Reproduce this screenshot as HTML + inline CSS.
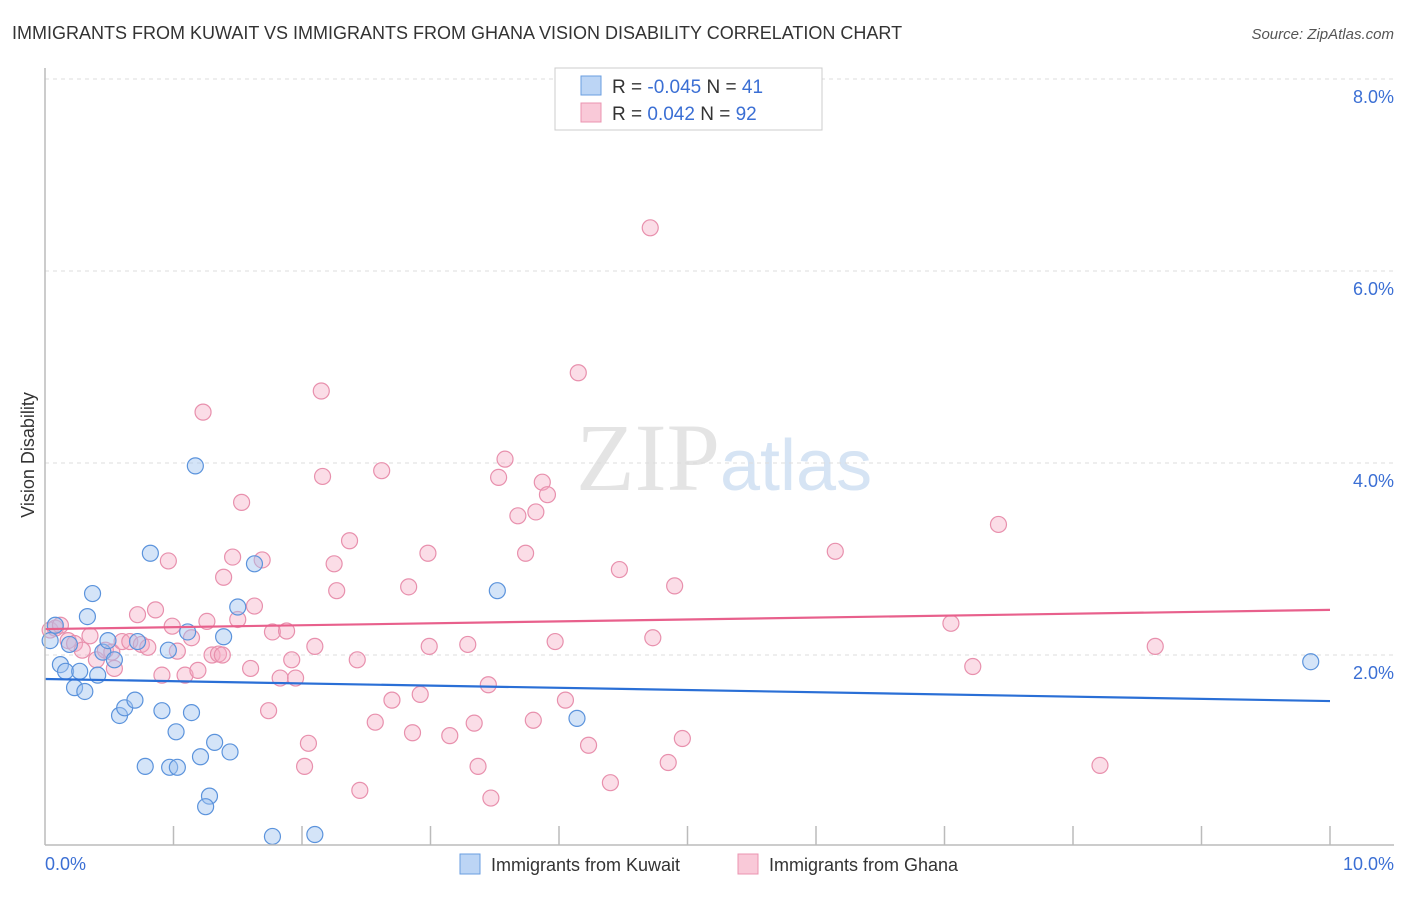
<!DOCTYPE html>
<html><head><meta charset="utf-8"><style>
body{margin:0;background:#fff;font-family:"Liberation Sans",sans-serif}
</style></head><body>
<svg id="c" width="1406" height="892" xmlns="http://www.w3.org/2000/svg">
<text x="12" y="39" font-size="18" fill="#333">IMMIGRANTS FROM KUWAIT VS IMMIGRANTS FROM GHANA VISION DISABILITY CORRELATION CHART</text>
<text x="1394" y="39" font-size="15" fill="#555" font-style="italic" text-anchor="end">Source: ZipAtlas.com</text>
<text x="720" y="490" font-size="96" fill="#e4e4e4" font-family="Liberation Serif,serif" text-anchor="end">ZIP</text>
<text x="720" y="490" font-size="72" fill="#d6e4f4">atlas</text>
<text transform="translate(34,455) rotate(-90)" font-size="18" fill="#333" text-anchor="middle">Vision Disability</text>
<g id="grid"></g><g id="pts"></g><g id="lines"></g>
<line x1="45" y1="68" x2="45" y2="845" stroke="#bbb" stroke-width="1.5"/>
<line x1="45" y1="845" x2="1394" y2="845" stroke="#bbb" stroke-width="1.5"/>
<text x="45" y="870" font-size="18" fill="#3b6fd4">0.0%</text>
<text x="1394" y="870" font-size="18" fill="#3b6fd4" text-anchor="end">10.0%</text>
<g>
<rect x="555" y="68" width="267" height="62" fill="#fff" stroke="#ccc"/>
<rect x="581" y="76" width="20" height="19" fill="#bcd5f5" stroke="#6a9ee0"/>
<rect x="581" y="103" width="20" height="19" fill="#f9c9d8" stroke="#eb94b0"/>
<text x="612" y="93" font-size="19" fill="#333">R = <tspan fill="#3b6fd4">-0.045</tspan>   N = <tspan fill="#3b6fd4">41</tspan></text>
<text x="612" y="120" font-size="19" fill="#333">R =   <tspan fill="#3b6fd4">0.042</tspan>   N = <tspan fill="#3b6fd4">92</tspan></text>
</g>
<g><rect x="460" y="854" width="20" height="20" fill="#bcd5f5" stroke="#6a9ee0"/><text x="491" y="871" font-size="18" fill="#333">Immigrants from Kuwait</text></g>
<g><rect x="738" y="854" width="20" height="20" fill="#f9c9d8" stroke="#eb94b0"/><text x="769" y="871" font-size="18" fill="#333">Immigrants from Ghana</text></g>
</svg>
<script>
const yTicks=[2,4,6,8];
const xTicks=[1,2,3,4,5,6,7,8,9,10];
const blueX=[0.04,0.12,0.16,0.19,0.23,0.27,0.31,0.33,0.37,0.41,0.45,0.49,0.54,0.58,0.62,0.7,0.72,0.78,0.82,0.91,0.96,0.97,1.02,1.03,1.11,1.14,1.17,1.21,1.28,1.25,1.32,1.39,1.44,1.5,1.63,1.77,2.1,3.52,4.14,9.85,0.08];
const blueY=[2.15,1.9,1.83,2.11,1.66,1.83,1.62,2.4,2.64,1.79,2.03,2.15,1.95,1.37,1.45,1.53,2.14,0.84,3.06,1.42,2.05,0.83,1.2,0.83,2.24,1.4,3.97,0.94,0.53,0.42,1.09,2.19,0.99,2.5,2.95,0.11,0.13,2.67,1.34,1.93,2.31];
const pinkX=[0.04,0.08,0.12,0.18,0.23,0.29,0.35,0.4,0.47,0.52,0.54,0.6,0.66,0.72,0.75,0.8,0.86,0.91,0.96,0.99,1.03,1.09,1.14,1.19,1.23,1.26,1.3,1.35,1.38,1.39,1.46,1.5,1.53,1.6,1.63,1.69,1.74,1.77,1.83,1.88,1.92,1.95,2.02,2.05,2.1,2.15,2.16,2.25,2.27,2.37,2.43,2.45,2.57,2.62,2.7,2.83,2.86,2.92,2.98,2.99,3.15,3.29,3.34,3.37,3.45,3.47,3.53,3.58,3.68,3.74,3.8,3.82,3.87,3.91,3.97,4.05,4.15,4.23,4.4,4.47,4.71,4.73,4.85,4.9,4.96,6.15,7.05,7.22,7.42,8.21,8.64];
const pinkY=[2.26,2.28,2.31,2.15,2.12,2.05,2.2,1.95,2.05,2.03,1.86,2.14,2.14,2.42,2.11,2.08,2.47,1.79,2.98,2.3,2.04,1.79,2.18,1.84,4.53,2.35,2.0,2.01,2.0,2.81,3.02,2.37,3.59,1.86,2.51,2.99,1.42,2.24,1.76,2.25,1.95,1.76,0.84,1.08,2.09,4.75,3.86,2.95,2.67,3.19,1.95,0.59,1.3,3.92,1.53,2.71,1.19,1.59,3.06,2.09,1.16,2.11,1.29,0.84,1.69,0.51,3.85,4.04,3.45,3.06,1.32,3.49,3.8,3.67,2.14,1.53,4.94,1.06,0.67,2.89,6.45,2.18,0.88,2.72,1.13,3.08,2.33,1.88,3.36,0.85,2.09];
const blueTrend=[1.75,1.52];
const pinkTrend=[2.27,2.47];
const NS="http://www.w3.org/2000/svg";
const X=v=>45+v*128.5, Y=v=>847-v*96;
function mk(t,a,p){const e=document.createElementNS(NS,t);for(const k in a)e.setAttribute(k,a[k]);p.appendChild(e);return e;}
const grid=document.getElementById('grid'),pts=document.getElementById('pts'),lines=document.getElementById('lines');
yTicks.forEach(v=>{
 const l=mk('line',{x1:45,x2:1394,y1:Y(v),y2:Y(v),stroke:'#ddd','stroke-dasharray':'4,4'},grid);
 
 
 const t=mk('text',{x:1394,y:Y(v)+24,'font-size':18,fill:'#3b6fd4','text-anchor':'end'},grid);
 t.textContent=v.toFixed(1)+'%';
 
 
});
xTicks.forEach(v=>{
 const l=mk('line',{x1:X(v),x2:X(v),y1:826,y2:845,stroke:'#bbb','stroke-width':1.5},grid);
 
 
});
pinkX.forEach((x,i)=>{
 const c=mk('circle',{cx:X(x),cy:Y(pinkY[i]),r:8,fill:'rgba(246,170,195,0.4)',stroke:'#e890ad','stroke-width':1.2},pts);
 
 
});
blueX.forEach((x,i)=>{
 const c=mk('circle',{cx:X(x),cy:Y(blueY[i]),r:8,fill:'rgba(160,195,240,0.45)',stroke:'#5b93dc','stroke-width':1.2},pts);
 
 
});
const bl=mk('line',{x1:X(0),x2:X(10),y1:Y(blueTrend[0]),y2:Y(blueTrend[1]),stroke:'#2a6fd6','stroke-width':2.2},lines);


const pl=mk('line',{x1:X(0),x2:X(10),y1:Y(pinkTrend[0]),y2:Y(pinkTrend[1]),stroke:'#e8608c','stroke-width':2.2},lines);


</script>
</body></html>
